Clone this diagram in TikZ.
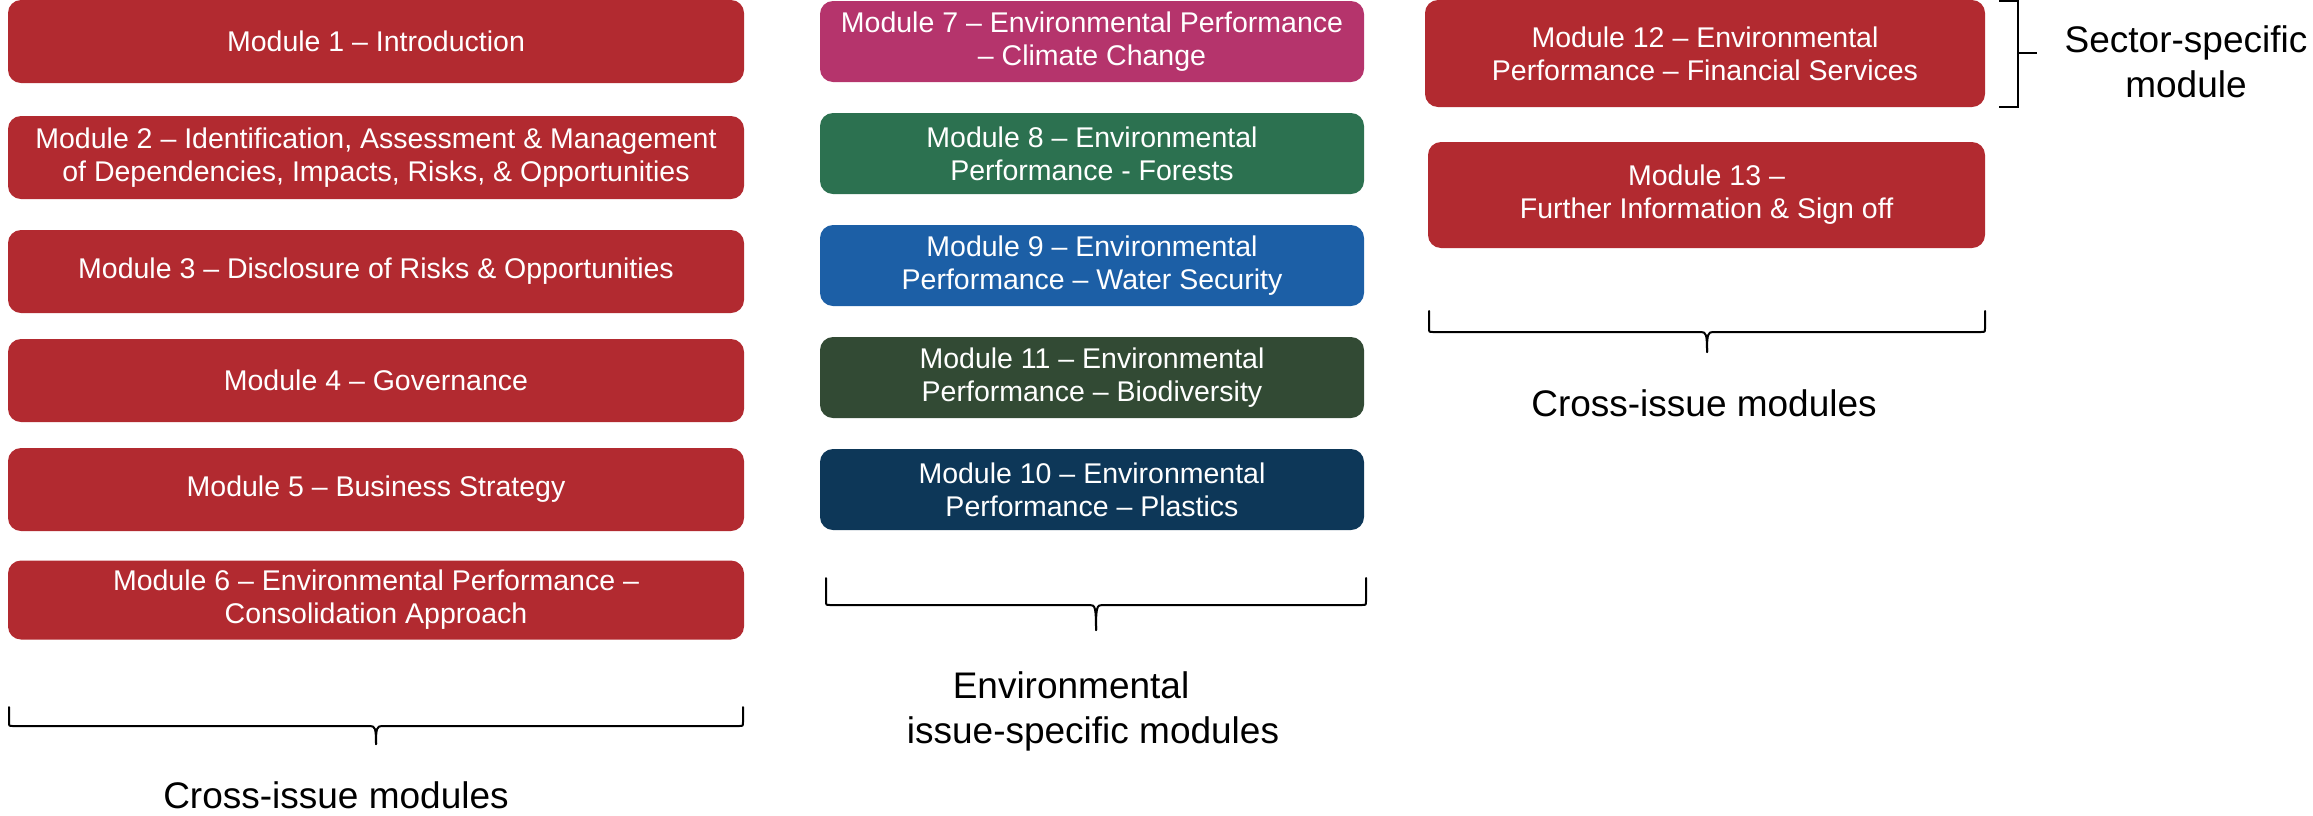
\documentclass[tikz,border=0pt]{standalone}
\usepackage{fontspec}
\setmainfont{Liberation Sans}
\definecolor{modred}{HTML}{B22A30}
\definecolor{modpink}{HTML}{B5346C}
\definecolor{modgreen}{HTML}{2C7150}
\definecolor{modblue}{HTML}{1C5FA6}
\definecolor{moddkgreen}{HTML}{324A34}
\definecolor{modnavy}{HTML}{0D3758}
\newcommand{\modbrace}[6]{%
  \draw[bracepath] (#1,#4) -- (#1,#5-4) .. controls (#1,#5) .. (#1+4,#5) -- (#3-6,#5) .. controls (#3-1,#5) and (#3,#5+2) .. (#3,#6);
  \draw[bracepath] (#2,#4) -- (#2,#5-4) .. controls (#2,#5) .. (#2-4,#5) -- (#3+6,#5) .. controls (#3+1,#5) and (#3,#5+2) .. (#3,#6);
}
\tikzset{
  modbox/.style={rectangle, rounded corners=13pt, text=white, align=center,
    font=\fontsize{28.5}{33}\selectfont, inner sep=0pt, draw=none},
  leftbox/.style={modbox, fill=modred, minimum width=736pt, minimum height=83pt},
  midbox/.style={modbox, minimum width=544pt, minimum height=81pt},
  rightbox/.style={modbox, fill=modred, minimum height=106pt},
  grouplabel/.style={align=center, font=\fontsize{37}{45}\selectfont, text=black, inner sep=0pt},
  bracepath/.style={line width=2pt, line join=round, line cap=round, black},
  sqbracket/.style={line width=2pt, black}
}
\begin{document}
\begin{tikzpicture}[x=1pt,y=-1pt]
\useasboundingbox (0,0) rectangle (2313,815);
% left column
\node[leftbox] (m1) at (376,41.5) {Module 1 – Introduction};
\node[leftbox] (m2) at (376,157.5) {Module 2 – Identification, Assessment \& Management\\of Dependencies, Impacts, Risks, \& Opportunities};
\node[leftbox] (m3) at (376,271.5) {Module 3 – Disclosure of Risks \& Opportunities};
\node[leftbox] (m4) at (376,380.5) {Module 4 – Governance};
\node[leftbox] (m5) at (376,489.5) {Module 5 – Business Strategy};
\node[leftbox, minimum height=79pt] (m6) at (376,600) {Module 6 – Environmental Performance –\\Consolidation Approach};
% middle column
\node[midbox, fill=modpink] (m7) at (1092,41.5) {Module 7 – Environmental Performance\\– Climate Change};
\node[midbox, fill=modgreen] (m8) at (1092,153.5) {Module 8 – Environmental\\Performance - Forests};
\node[midbox, fill=modblue] (m9) at (1092,265.5) {Module 9 – Environmental\\Performance – Water Security};
\node[midbox, fill=moddkgreen] (m11) at (1092,377.5) {Module 11 – Environmental\\Performance – Biodiversity};
\node[midbox, fill=modnavy] (m10) at (1092,489.5) {Module 10 – Environmental\\Performance – Plastics};
% right column
\node[rightbox, minimum width=560pt, minimum height=107pt] (m12) at (1705,53.5) {Module 12 – Environmental\\Performance – Financial Services};
\node[rightbox, minimum width=557pt] (m13) at (1706.5,195) {Module 13 –\\Further Information \& Sign off};
% braces
\modbrace{9}{743}{376}{707}{726}{744}
\modbrace{826}{1366}{1096}{578}{605}{630}
\modbrace{1429}{1985}{1707}{311}{332}{352}
% square bracket
\draw[sqbracket] (1999,1) -- (2018,1) -- (2018,107) -- (1999,107);
\draw[sqbracket] (2018,53) -- (2037,53);
% labels
\node[grouplabel] (lab1) at (336,795) {Cross-issue modules};
\node[grouplabel] (lab2) at (1093,711) {Environmental\hspace*{44pt}\\issue-specific modules};
\node[grouplabel] (lab3) at (1704,403.5) {Cross-issue modules};
\node[grouplabel] (lab4) at (2186,62) {Sector-specific\\module};
\end{tikzpicture}
\end{document}
